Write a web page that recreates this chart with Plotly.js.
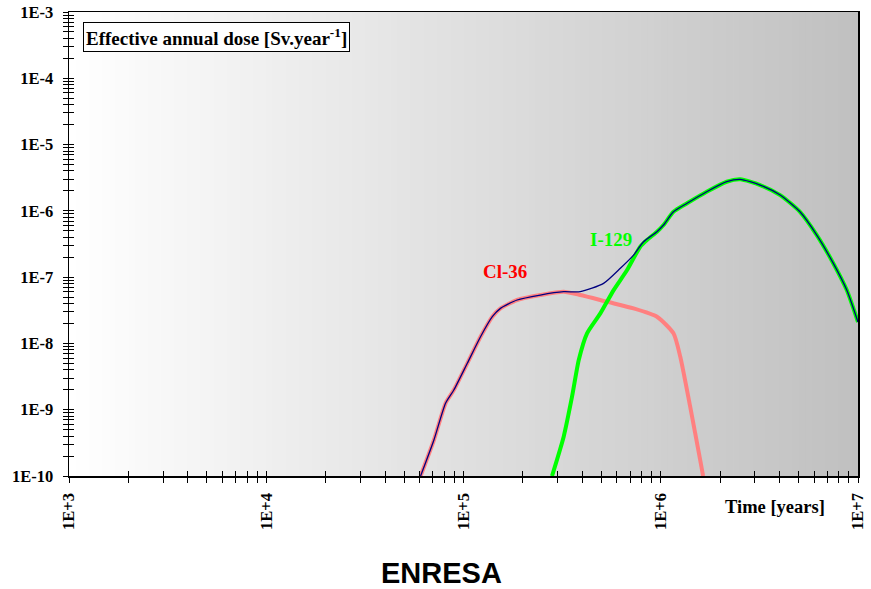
<!DOCTYPE html>
<html><head><meta charset="utf-8">
<script src="https://cdn.plot.ly/plotly-3.0.1.min.js"></script>
<style>html,body{margin:0;padding:0;background:#fff}#chart{width:871px;height:589px}</style>
</head><body><div id="chart"></div>
<script>
// Cl-36 dose (pink)
const cl36Time = [6.06e4, 7.08e4, 8.11e4, 8.93e4, 1.045e5, 1.22e5, 1.40e5, 1.54e5, 1.87e5, 2.45e5, 3.22e5, 3.91e5, 5.35e5, 7.28e5, 9.57e5, 1.16e6, 1.256e6, 1.41e6, 1.585e6, 1.64e6];
const cl36Dose = [1e-10, 3.49e-10, 1.25e-9, 1.98e-9, 5.01e-9, 1.26e-8, 2.53e-8, 3.38e-8, 4.52e-8, 5.37e-8, 6.03e-8, 5.37e-8, 4.25e-8, 3.38e-8, 2.53e-8, 1.42e-8, 6.29e-9, 1.11e-9, 1.74e-10, 1e-10];
// I-129 dose (green)
const i129Time = [2.81e5, 3.22e5, 3.55e5, 3.84e5, 4.23e5, 4.94e5, 5.77e5, 6.75e5, 7.87e5, 8.51e5, 9.57e5, 1.033e6, 1.16e6, 1.36e6, 1.71e6, 2.16e6, 2.53e6, 3.19e6, 4.03e6, 5.08e6, 6.18e6, 7.50e6, 8.77e6, 1e7];
const i129Dose = [1e-10, 3.92e-10, 1.57e-9, 5.62e-9, 1.42e-8, 2.84e-8, 6.38e-8, 1.28e-7, 2.88e-7, 3.63e-7, 4.84e-7, 6.11e-7, 9.68e-7, 1.30e-6, 1.94e-6, 2.75e-6, 2.99e-6, 2.45e-6, 1.73e-6, 9.68e-7, 4.31e-7, 1.61e-7, 6.38e-8, 2.10e-8];
// Total dose (navy thin)
const totalTime = [6.06e4, 7.08e4, 8.11e4, 8.93e4, 1.045e5, 1.22e5, 1.40e5, 1.54e5, 1.87e5, 2.45e5, 3.22e5, 3.91e5, 5.13e5, 6.24e5, 7.28e5, 8.18e5, 9.57e5, 1.033e6, 1.16e6, 1.36e6, 1.71e6, 2.16e6, 2.53e6, 3.19e6, 4.03e6, 5.08e6, 6.18e6, 7.50e6, 8.77e6, 1e7];
const totalDose = [1e-10, 3.49e-10, 1.25e-9, 1.98e-9, 5.01e-9, 1.26e-8, 2.53e-8, 3.38e-8, 4.52e-8, 5.37e-8, 6.03e-8, 6.03e-8, 8.05e-8, 1.36e-7, 2.15e-7, 3.42e-7, 4.84e-7, 6.11e-7, 9.68e-7, 1.30e-6, 1.94e-6, 2.75e-6, 2.99e-6, 2.45e-6, 1.73e-6, 9.68e-7, 4.31e-7, 1.61e-7, 6.38e-8, 2.10e-8];

const xDecades = [3, 4, 5, 6, 7];
const xDecadeLabels = ['1E+3', '1E+4', '1E+5', '1E+6', '1E+7'];
const yDecades = [-10, -9, -8, -7, -6, -5, -4, -3];
const yDecadeLabels = ['1E-10', '1E-9', '1E-8', '1E-7', '1E-6', '1E-5', '1E-4', '1E-3'];

function logTicks(decades, labels) {
  const vals = [], text = [];
  for (let i = 0; i < decades.length; i++) {
    const base = Math.pow(10, decades[i]);
    if (i === decades.length - 1) { vals.push(base); text.push(labels[i]); break; }
    for (let m = 1; m <= 9; m++) { vals.push(m * base); text.push(m === 1 ? labels[i] : ' '); }
  }
  return {vals, text};
}
const xt = logTicks(xDecades, xDecadeLabels);
const yt = logTicks(yDecades, yDecadeLabels);

const serif = 'Liberation Serif, Times New Roman, serif';
const tickFont = {family: serif, size: 16.5, color: '#000', weight: 700};

const traces = [
  {x: cl36Time, y: cl36Dose, mode: 'lines', line: {color: '#ff8080', width: 4, shape: 'spline', smoothing: 0.6}, hoverinfo: 'skip'},
  {x: i129Time, y: i129Dose, mode: 'lines', line: {color: '#00ff00', width: 4, shape: 'spline', smoothing: 0.6}, hoverinfo: 'skip'},
  {x: totalTime, y: totalDose, mode: 'lines', line: {color: '#000080', width: 1.3, shape: 'spline', smoothing: 0.6}, hoverinfo: 'skip'},
  {x: [], y: [], xaxis: 'x2', yaxis: 'y2', mode: 'lines', hoverinfo: 'skip'}
];

// background horizontal gradient bands
const shapes = [];
const N = 120;
for (let i = 0; i < N; i++) {
  const g = Math.round(255 - 63 * (i + 0.5) / N);
  shapes.push({type: 'rect', xref: 'paper', yref: 'paper', x0: i / N, x1: (i + 1) / N + 0.001, y0: 0, y1: 1,
    fillcolor: `rgb(${g},${g},${g})`, line: {width: 0}, layer: 'below'});
}

const layout = {
  width: 871, height: 589,
  margin: {l: 69, r: 13, t: 12, b: 113},
  paper_bgcolor: '#fff', plot_bgcolor: '#fff',
  showlegend: false,
  shapes: shapes,
  xaxis: {type: 'log', range: [3, 7], tickmode: 'array', tickvals: xt.vals, ticktext: xt.text, tickangle: -90,
    ticks: 'outside', ticklen: 5, tickwidth: 1, tickcolor: '#000', ticklabelstandoff: 4,
    showline: true, linecolor: '#000', linewidth: 1.5, mirror: true, showgrid: false, zeroline: false, tickfont: tickFont},
  yaxis: {type: 'log', range: [-10, -3], tickmode: 'array', tickvals: yt.vals, ticktext: yt.text,
    ticks: 'outside', ticklen: 5, tickwidth: 1, tickcolor: '#000', ticklabelstandoff: 6,
    showline: true, linecolor: '#000', linewidth: 1.5, mirror: true, showgrid: false, zeroline: false, tickfont: tickFont},
  xaxis2: {type: 'log', range: [3, 7], overlaying: 'x', anchor: 'y2', side: 'bottom', tickmode: 'array', tickvals: xt.vals,
    ticks: 'inside', ticklen: 5, tickwidth: 1, tickcolor: '#000', showticklabels: false, showline: false, showgrid: false, zeroline: false},
  yaxis2: {type: 'log', range: [-10, -3], overlaying: 'y', anchor: 'x2', side: 'left', tickmode: 'array', tickvals: yt.vals,
    ticks: 'inside', ticklen: 5, tickwidth: 1, tickcolor: '#000', showticklabels: false, showline: false, showgrid: false, zeroline: false},
  annotations: [
    {xref: 'paper', yref: 'paper', x: 0.0177, y: 0.978, xanchor: 'left', yanchor: 'top', showarrow: false,
      text: 'Effective annual dose [Sv.year<sup>-1</sup>]', font: {family: serif, size: 19, color: '#000', weight: 700},
      bgcolor: '#fff', bordercolor: '#000', borderwidth: 1, borderpad: 2},
    {xref: 'x', yref: 'y', x: 5.210, y: -6.908, showarrow: false, text: 'Cl-36',
      font: {family: serif, size: 19, color: '#ff0000', weight: 700}},
    {xref: 'x', yref: 'y', x: 5.747, y: -6.425, showarrow: false, text: 'I-129',
      font: {family: serif, size: 19, color: '#00ff00', weight: 700}},
    {xref: 'paper', yref: 'paper', x: 0.895, y: -0.0668, xanchor: 'center', yanchor: 'middle', showarrow: false,
      text: 'Time [years]', font: {family: serif, size: 18.5, color: '#000', weight: 700}},
    {xref: 'paper', yref: 'paper', x: 0.4727, y: -0.209, xanchor: 'center', yanchor: 'middle', showarrow: false,
      text: 'ENRESA', font: {family: 'Liberation Sans, Arial, sans-serif', size: 29, color: '#000', weight: 700}}
  ]
};

Plotly.newPlot('chart', traces, layout, {displayModeBar: false, staticPlot: true});
</script>
</body></html>
